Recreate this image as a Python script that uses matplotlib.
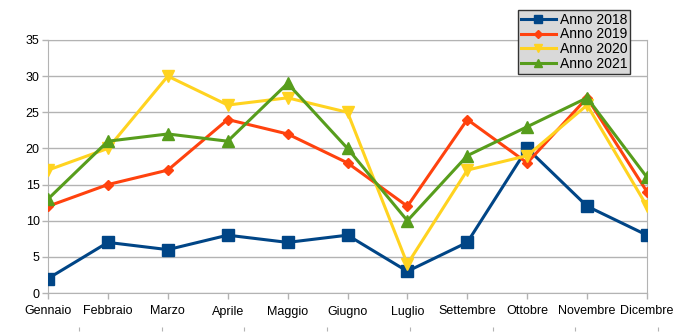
import matplotlib.pyplot as plt

plt.rcParams['font.family'] = ['Liberation Sans', 'DejaVu Sans']

mesi = ["Gennaio", "Febbraio", "Marzo", "Aprile", "Maggio", "Giugno",
        "Luglio", "Settembre", "Ottobre", "Novembre", "Dicembre"]
anno_2018 = [2, 7, 6, 8, 7, 8, 3, 7, 20, 12, 8]
anno_2019 = [12, 15, 17, 24, 22, 18, 12, 24, 18, 27, 14]
anno_2020 = [17, 20, 30, 26, 27, 25, 4, 17, 19, 26, 12]
anno_2021 = [13, 21, 22, 21, 29, 20, 10, 19, 23, 27, 16]

serie = [
    ("Anno 2018", anno_2018, "#004586", "s", 8),
    ("Anno 2019", anno_2019, "#ff420e", "D", 5.5),
    ("Anno 2020", anno_2020, "#ffd320", "v", 8.5),
    ("Anno 2021", anno_2021, "#579d1c", "^", 8.5),
]

fig = plt.figure(figsize=(6.9, 3.36), dpi=100)
ax = fig.add_axes([48 / 690, 1 - 293 / 336, (647 - 48) / 690, (293 - 40) / 336])

x = range(len(mesi))
for nome, valori, colore, marker, ms in serie:
    ax.plot(x, valori, color=colore, lw=2.2, marker=marker, markersize=ms,
            label=nome, zorder=3)

ax.set_xlim(0, len(mesi) - 1)
ax.set_ylim(0, 35)
ax.set_yticks(range(0, 36, 5))
ax.set_xticks(list(x))
ax.set_xticklabels(mesi)
ax.yaxis.grid(True, color="#b3b3b3", lw=1)
ax.set_axisbelow(True)
for s in ax.spines.values():
    s.set_color("#b3b3b3")
ax.tick_params(axis="both", colors="#b3b3b3", labelcolor="black", labelsize=9,
               length=4, width=1)
ax.tick_params(axis="x", pad=5)
ax.tick_params(axis="y", pad=2)

leg = ax.legend(loc="upper left", bbox_to_anchor=(518 / 690, 1 - 10 / 336),
                bbox_transform=fig.transFigure, fontsize=10, frameon=True,
                fancybox=False, borderpad=0.2, labelspacing=0.05,
                handlelength=2.5, handletextpad=0.3, borderaxespad=0,
                markerscale=0.75)
leg.get_frame().set_facecolor("#d9d9d9")
leg.get_frame().set_edgecolor("#333333")
leg.get_frame().set_alpha(1)

# tacche di un grafico sottostante, tagliato dal bordo inferiore
ax2 = fig.add_axes([79 / 690, -0.05, (658 - 79) / 690, 0.05 + 5 / 336])
ax2.set_xlim(0, 7)
ax2.set_xticks(range(8))
ax2.tick_params(axis="x", top=True, bottom=False, labelbottom=False,
                direction="out", length=3, color="#b3b3b3")
ax2.set_yticks([])
for s in ax2.spines.values():
    s.set_visible(False)
ax2.patch.set_visible(False)

fig.savefig("out.png", dpi=100)
